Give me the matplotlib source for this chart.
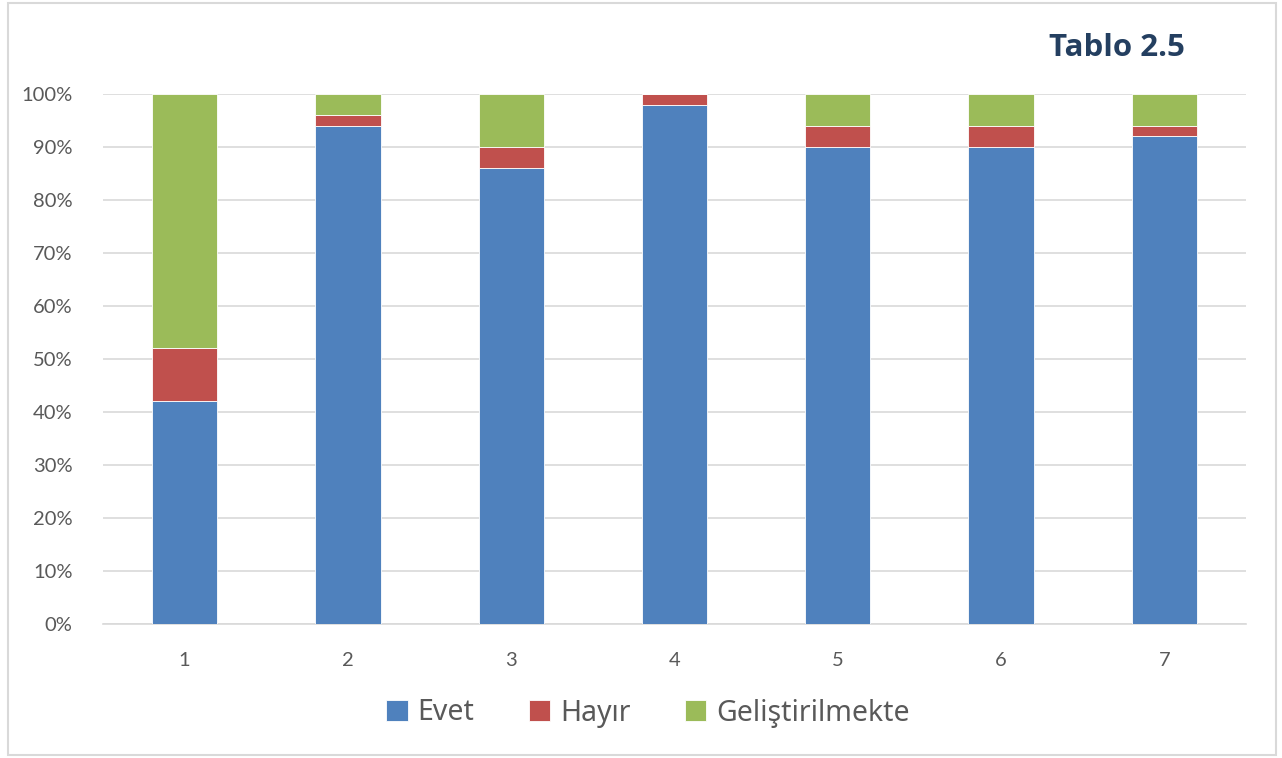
import matplotlib.pyplot as plt
from matplotlib.patches import Rectangle
from matplotlib.ticker import PercentFormatter

categories = ["1", "2", "3", "4", "5", "6", "7"]
evet = [42, 94, 86, 98, 90, 90, 92]
hayir = [10, 2, 4, 2, 4, 4, 2]
gelistirilmekte = [48, 4, 10, 0, 6, 6, 6]
y_ticks = [0, 10, 20, 30, 40, 50, 60, 70, 80, 90, 100]

series = [
    ("Evet", evet, "#4F81BD"),
    ("Hayır", hayir, "#C0504D"),
    ("Geliştirilmekte", gelistirilmekte, "#9BBB59"),
]

fig = plt.figure(figsize=(12.82, 7.58), dpi=100)
fig.patches.append(Rectangle((8 / 1282, 3 / 758), 1268 / 1282, 752 / 758,
                             transform=fig.transFigure, fill=False,
                             edgecolor="#D9D9D9", linewidth=1.5))

ax = fig.add_axes([103 / 1282, 1 - 624 / 758, 1143 / 1282, 530 / 758])
x = range(len(categories))
bottom = [0] * len(categories)
handles = []
for name, vals, color in series:
    bars = ax.bar(x, vals, bottom=bottom, width=0.40, color=color,
                  edgecolor="white", linewidth=0.6, label=name, zorder=3)
    handles.append(bars)
    bottom = [b + v for b, v in zip(bottom, vals)]

ax.set_xlim(-0.5, len(categories) - 0.5)
ax.set_ylim(0, 100)
ax.set_yticks(y_ticks)
ax.yaxis.set_major_formatter(PercentFormatter(decimals=0))
ax.set_xticks(list(x))
ax.set_xticklabels(categories)
ax.grid(axis="y", color="#D9D9D9", linewidth=1.2, zorder=0)
for side in ["top", "right", "left"]:
    ax.spines[side].set_visible(False)
ax.spines["bottom"].set_color("#D9D9D9")
ax.spines["bottom"].set_linewidth(1.2)
ax.tick_params(axis="both", length=0, labelsize=14.5, colors="#595959",
               labelfontfamily="Lato")
ax.tick_params(axis="y", pad=22)
ax.tick_params(axis="x", pad=20)

fig.text(1185 / 1282, 1 - 48 / 758, "Tablo 2.5", ha="right", va="center",
         fontsize=22.5, fontweight="bold", color="#243F60", family="Open Sans")

leg = fig.legend(handles=handles, loc="center", bbox_to_anchor=(648 / 1282, 1 - 713 / 758),
                 ncol=3, frameon=False, handlelength=0.75,
                 handleheight=0.75, handletextpad=0.35, columnspacing=1.9,
                 prop={"family": "Noto Sans", "size": 20.5})
for t in leg.get_texts():
    t.set_color("#595959")

fig.savefig("out.png", dpi=100, facecolor="white")
